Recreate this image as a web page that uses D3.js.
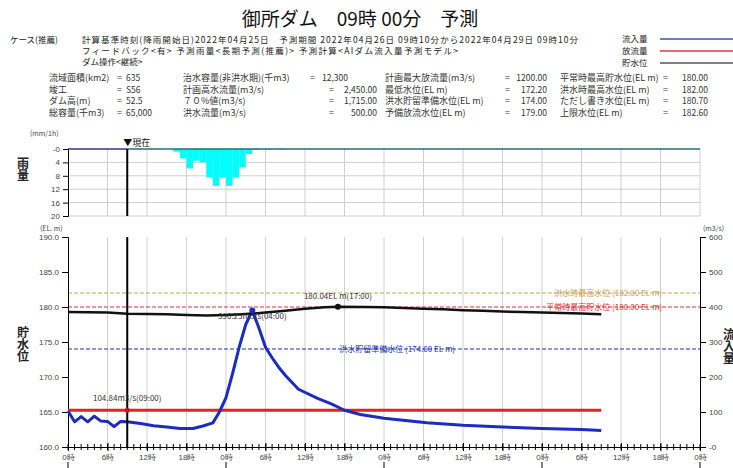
<!DOCTYPE html>
<html>
<head>
<meta charset="utf-8">
<script src="https://cdn.jsdelivr.net/npm/d3@7"></script>
<style>
  body { margin: 0; background: #fff; }
  svg { display: block; font-family: "Noto Sans CJK JP", "Noto Sans", sans-serif; }
  .vtitle { writing-mode: vertical-rl; font-size: 12px; font-weight: bold; fill: #222; }
</style>
</head>
<body>
<svg id="chart" width="733" height="468"></svg>
<script>
// ---- data ----
const rainHours = [16, 17, 18, 19, 20, 21, 22, 23, 24, 25, 26, 27, 28, 30, 32];
const rainValues = [0.8, 2.8, 5.8, 3.5, 4.0, 8.5, 11, 8.5, 11, 8.5, 5.5, 1.5, 0.3, 0.2, 0.2];

const inflowHours = [0, 1, 2, 3, 4, 5, 6, 7, 8, 9, 11, 13, 15, 17, 19, 20.5, 22, 23, 24, 25, 26, 27, 28,
  29, 30, 31, 32, 33, 34, 35, 38, 40, 42, 44.4, 48, 54.5, 60, 66, 72, 78, 81];
const inflowValues = [103, 72, 87, 72, 88, 74, 73, 58, 73, 72, 67, 61, 57, 53, 53, 60, 69, 100, 141, 210, 285, 350, 390.25,
  340, 285, 255, 228, 205, 185, 165, 138, 123, 105, 93, 82, 69, 62, 57, 53, 50, 47];

const outflowHours = [0, 9, 81];
const outflowValues = [104.84, 104.84, 104.84];

const levelHours = [0, 3, 6, 9, 12, 15, 18, 21, 24, 27, 30, 33, 36, 39, 41, 45, 48, 51, 54, 57, 60, 63, 66, 69, 72, 75, 78, 81];
const levelValues = [179.3, 179.25, 179.2, 179.05, 179.0, 178.95, 178.85, 178.8, 178.85, 179.0, 179.2, 179.45, 179.75, 179.95,
  180.04, 180.0, 179.95, 179.85, 179.75, 179.67, 179.55, 179.45, 179.35, 179.27, 179.2, 179.15, 179.08, 178.98];

const refLevels = [182.0, 180.0, 174.0];
const refNames = ["洪水時最高水位", "平常時最高貯水位", "洪水貯留準備水位"];
const refColors = ["#c9a052", "#e03030", "#2030b0"];

const levelTicks = [160, 165, 170, 175, 180, 185, 190];
const flowTicks = [0, 100, 200, 300, 400, 500, 600];
const rainTicks = [0, 4, 8, 12, 16, 20];
const dayLabels = ["26日", "27日", "28日", "29日"];

const infoCols = [
  { labels: ["流域面積(km2)", "竣工", "ダム高(m)", "総容量(千m3)"], values: ["635", "S56", "52.5", "65,000"] },
  { labels: ["治水容量(非洪水期)(千m3)", "計画高水流量(m3/s)", "７０%値(m3/s)", "洪水流量(m3/s)"], values: ["12,300", "2,450.00", "1,715.00", "500.00"] },
  { labels: ["計画最大放流量(m3/s)", "最低水位(EL m)", "洪水貯留準備水位(EL m)", "予備放流水位(EL m)"], values: ["1200.00", "172.20", "174.00", "179.00"] },
  { labels: ["平常時最高貯水位(EL m)", "洪水時最高水位(EL m)", "ただし書き水位(EL m)", "上限水位(EL m)"], values: ["180.00", "182.00", "180.70", "182.60"] }
];

const nowHour = 9;

// ---- layout ----
const svg = d3.select("#chart");
const x = d3.scaleLinear().domain([0, 96]).range([68, 700]);
const yRain = d3.scaleLinear().domain([0, 20]).range([149, 216]);
const yLevel = d3.scaleLinear().domain([160, 190]).range([447, 237]);
const yFlow = d3.scaleLinear().domain([0, 600]).range([447, 237]);
const txt = "#333";

// ---- header ----
svg.append("text").attr("x", 360).attr("y", 26).attr("text-anchor", "middle")
  .attr("font-size", 19).attr("fill", "#111")
  .text("御所ダム　09時 00分　予測");

const head = svg.append("g").attr("font-size", 8.5).attr("fill", "#222");
head.append("text").attr("x", 10).attr("y", 43).text("ケース(推薦)");
head.append("text").attr("x", 82).attr("y", 43).attr("textLength", 496).attr("lengthAdjust", "spacing")
  .text("計算基準時刻(降雨開始日)2022年04月25日　予測期間 2022年04月26日 09時10分から2022年04月29日 09時10分");
head.append("text").attr("x", 82).attr("y", 54).attr("textLength", 376).attr("lengthAdjust", "spacing")
  .text("フィードバック<有> 予測雨量<長期予測(推薦)> 予測計算<AIダム流入量予測モデル>");
head.append("text").attr("x", 82).attr("y", 65).text("ダム操作<継続>");

// legend
const legNames = ["流入量", "放流量", "貯水位"];
const legColors = ["#3a55a8", "#d84040", "#555"];
legNames.forEach((n, i) => {
  const yy = 39 + i * 12;
  head.append("text").attr("x", 622).attr("y", yy + 3).text(n);
  svg.append("line").attr("x1", 660).attr("x2", 733).attr("y1", yy).attr("y2", yy)
    .attr("stroke", legColors[i]).attr("stroke-width", 1.5);
});

// info block
const colPos = [
  { lx: 49, ex: 117, vx: 126, anchor: "start" },
  { lx: 183, ex: 329, vx: 377, anchor: "end" },
  { lx: 385, ex: 505, vx: 547, anchor: "end" },
  { lx: 560, ex: 663, vx: 708, anchor: "end" }
];
const info = svg.append("g").attr("font-size", 9).attr("fill", txt);
infoCols.forEach((c, ci) => {
  const p = colPos[ci];
  c.labels.forEach((l, ri) => {
    const yy = 81 + ri * 11.5;
    info.append("text").attr("x", p.lx).attr("y", yy).text(l);
    let ex = p.ex, vx = p.vx, anchor = p.anchor;
    if (ci === 1 && ri === 0) { ex = 310; vx = 322; anchor = "start"; }
    info.append("text").attr("x", ex).attr("y", yy).text("=");
    info.append("text").attr("x", vx).attr("y", yy).attr("text-anchor", anchor)
      .attr("font-size", 8.5).text(c.values[ri]);
  });
});

// ---- rain panel ----
const rain = svg.append("g");
rain.append("g").selectAll("line.h").data(rainTicks.slice(1)).join("line")
  .attr("x1", x(0)).attr("x2", x(96)).attr("y1", d => yRain(d)).attr("y2", d => yRain(d))
  .attr("stroke", "#cfcfcf");
rain.append("g").selectAll("line.v").data(d3.range(6, 97, 6)).join("line")
  .attr("x1", d => x(d)).attr("x2", d => x(d)).attr("y1", yRain(0)).attr("y2", yRain(20))
  .attr("stroke", "#cfcfcf");

rain.append("g").selectAll("rect").data(rainHours).join("rect")
  .attr("x", d => x(d)).attr("width", d => x(d + 1) - x(d))
  .attr("y", yRain(0)).attr("height", (d, i) => yRain(rainValues[i]) - yRain(0))
  .attr("fill", "#00ffff");

const rainAxis = rain.append("g").attr("transform", `translate(${x(0)},0)`)
  .call(d3.axisLeft(yRain).tickValues(rainTicks).tickSize(5).tickFormat(d => d === 0 ? "-0" : d));
rainAxis.selectAll("text").attr("font-size", 8).attr("fill", "#444");
rainAxis.select(".domain").attr("stroke", "#000");

rain.append("line").attr("x1", x(0)).attr("x2", x(nowHour)).attr("y1", yRain(0)).attr("y2", yRain(0))
  .attr("stroke", "#33338a").attr("stroke-width", 1.5);
rain.append("line").attr("x1", x(nowHour)).attr("x2", x(96)).attr("y1", yRain(0)).attr("y2", yRain(0))
  .attr("stroke", "#236e78").attr("stroke-width", 1.5);

rain.append("line").attr("x1", x(nowHour)).attr("x2", x(nowHour)).attr("y1", yRain(0)).attr("y2", yRain(20))
  .attr("stroke", "#000").attr("stroke-width", 2);
rain.append("text").attr("x", x(nowHour) - 4).attr("y", 146).attr("font-size", 9).attr("fill", "#111").text("▼現在");
rain.append("text").attr("x", 30).attr("y", 136).attr("font-size", 7).attr("fill", "#444").text("(mm/1h)");
rain.append("text").attr("class", "vtitle").attr("x", 23).attr("y", 157).text("雨量");

// ---- main panel ----
const main = svg.append("g");
main.append("g").selectAll("line").data(d3.range(6, 96, 6)).join("line")
  .attr("x1", d => x(d)).attr("x2", d => x(d)).attr("y1", yLevel(190)).attr("y2", yLevel(160))
  .attr("stroke", "#d2d2d2");

// reference levels
refLevels.forEach((lv, i) => {
  main.append("line").attr("x1", x(0)).attr("x2", x(96)).attr("y1", yLevel(lv)).attr("y2", yLevel(lv))
    .attr("stroke", refColors[i]).attr("stroke-width", 1).attr("stroke-dasharray", "4,2");
});
const refLabelX = [662, 662, 455];
refLevels.forEach((lv, i) => {
  main.append("text").attr("x", refLabelX[i]).attr("y", yLevel(lv) + 3).attr("text-anchor", "end")
    .attr("font-size", 8).attr("fill", refColors[i])
    .text(`${refNames[i]} (${lv.toFixed(2)} EL m)`);
});

// axes
const leftAxis = main.append("g").attr("transform", `translate(${x(0)},0)`)
  .call(d3.axisLeft(yLevel).tickValues(levelTicks).tickSize(6).tickFormat(d3.format(".1f")));
const rightAxis = main.append("g").attr("transform", `translate(${x(96)},0)`)
  .call(d3.axisRight(yFlow).tickValues(flowTicks).tickSize(6).tickFormat(d => d === 0 ? "-0" : d));
const bottomAxis = main.append("g").attr("transform", `translate(0,${yLevel(160)})`)
  .call(d3.axisBottom(x).tickValues(d3.range(0, 97, 6)).tickSize(4).tickFormat(d => (d % 24) + "時"));
[leftAxis, rightAxis, bottomAxis].forEach(a => {
  a.selectAll("text").attr("font-size", 8).attr("fill", "#444");
  a.select(".domain").attr("stroke", "#000");
  a.selectAll(".tick line").attr("stroke", "#000");
});
bottomAxis.selectAll(".tick line").attr("y1", -4);
main.append("g").selectAll("line").data(d3.range(0, 97, 1)).join("line")
  .attr("x1", d => x(d)).attr("x2", d => x(d)).attr("y1", yLevel(160) - 3).attr("y2", yLevel(160) + 3)
  .attr("stroke", "#000");

// day separators and labels (cut at the bottom edge as in the reference)
main.append("g").selectAll("line").data(d3.range(0, 97, 24)).join("line")
  .attr("x1", d => x(d)).attr("x2", d => x(d)).attr("y1", 462).attr("y2", 470).attr("stroke", "#000");
main.append("g").selectAll("text").data(dayLabels).join("text")
  .attr("x", (d, i) => x(12 + i * 24)).attr("y", 476).attr("text-anchor", "middle")
  .attr("font-size", 9).attr("fill", "#333").text(d => d);

main.append("text").attr("x", 40).attr("y", 231).attr("font-size", 7).attr("fill", "#444").text("(EL. m)");
main.append("text").attr("x", 703).attr("y", 231).attr("font-size", 7).attr("fill", "#444").text("(m3/s)");
main.append("text").attr("class", "vtitle").attr("x", 23).attr("y", 326).text("貯水位");
main.append("text").attr("class", "vtitle").attr("x", 729).attr("y", 328).text("流入量");

// series
const flowLine = (hs) => d3.line().x((d, i) => x(hs[i])).y(d => yFlow(d));
main.append("path").datum(outflowValues).attr("d", flowLine(outflowHours))
  .attr("fill", "none").attr("stroke", "#e82020").attr("stroke-width", 3);
main.append("path").datum(inflowValues).attr("d", flowLine(inflowHours))
  .attr("fill", "none").attr("stroke", "#1c2cc0").attr("stroke-width", 3).attr("stroke-linejoin", "round");
main.append("path").datum(levelValues)
  .attr("d", d3.line().x((d, i) => x(levelHours[i])).y(d => yLevel(d)))
  .attr("fill", "none").attr("stroke", "#111").attr("stroke-width", 2.5);

// now line
main.append("line").attr("x1", x(nowHour)).attr("x2", x(nowHour)).attr("y1", yLevel(190)).attr("y2", yLevel(160))
  .attr("stroke", "#000").attr("stroke-width", 2);

// annotations
const peakIdx = inflowValues.indexOf(d3.max(inflowValues));
main.append("circle").attr("cx", x(inflowHours[peakIdx])).attr("cy", yFlow(inflowValues[peakIdx])).attr("r", 3).attr("fill", "#1c2cc0");
main.append("text").attr("x", x(inflowHours[peakIdx])).attr("y", yFlow(inflowValues[peakIdx]) + 9).attr("text-anchor", "middle")
  .attr("font-size", 8).attr("fill", "#333").text(`${inflowValues[peakIdx].toFixed(2)}m3/s(04:00)`);

main.append("circle").attr("cx", x(nowHour)).attr("cy", yFlow(outflowValues[1])).attr("r", 2.5).attr("fill", "#c01818");
main.append("text").attr("x", x(nowHour)).attr("y", yFlow(outflowValues[1]) - 9).attr("text-anchor", "middle")
  .attr("font-size", 8).attr("fill", "#333").text(`${outflowValues[1].toFixed(2)}m3/s(09:00)`);

const lvIdx = levelValues.indexOf(d3.max(levelValues));
main.append("circle").attr("cx", x(levelHours[lvIdx])).attr("cy", yLevel(levelValues[lvIdx])).attr("r", 3).attr("fill", "#111");
main.append("text").attr("x", x(levelHours[lvIdx])).attr("y", yLevel(levelValues[lvIdx]) - 8).attr("text-anchor", "middle")
  .attr("font-size", 8).attr("fill", "#333").text(`${levelValues[lvIdx].toFixed(2)}EL m(17:00)`);
</script>
</body>
</html>
